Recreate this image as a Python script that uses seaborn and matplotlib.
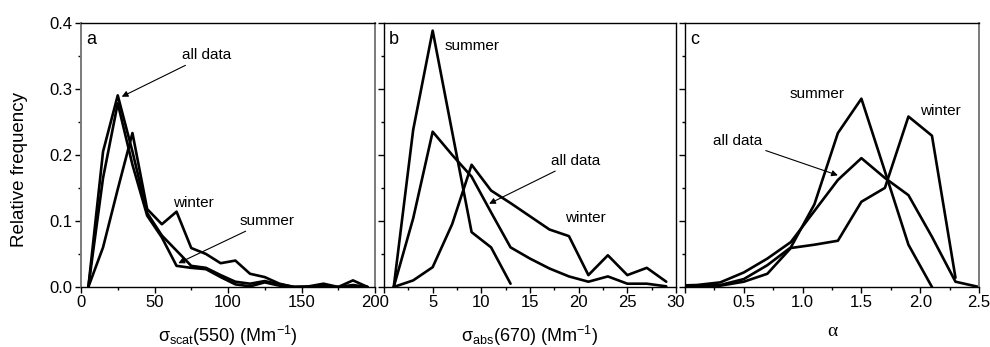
import numpy as np
import pandas as pd
import matplotlib
matplotlib.use("Agg")
import matplotlib.pyplot as plt
from matplotlib.ticker import MultipleLocator, FixedLocator
import seaborn as sns

# ---- data ----
a_x = [5, 15, 25, 35, 45, 55, 65, 75, 85, 95, 105, 115, 125, 135, 145, 155, 165, 175, 185, 195]
a_all = [0, 0.205, 0.29, 0.205, 0.112, 0.078, 0.055, 0.032, 0.029, 0.018, 0.008, 0.005, 0.009, 0.004, 0, 0, 0.002, 0, 0.003, 0]
a_summer = [0, 0.165, 0.278, 0.185, 0.108, 0.075, 0.032, 0.029, 0.027, 0.015, 0.004, 0.001, 0.007, 0.002, 0, 0, 0, 0, 0, 0]
a_winter = [0, 0.06, 0.148, 0.233, 0.118, 0.095, 0.114, 0.059, 0.05, 0.036, 0.04, 0.02, 0.015, 0.005, 0, 0.001, 0.005, 0, 0.01, 0]

b_x = [1, 3, 5, 7, 9, 11, 13, 15, 17, 19, 21, 23, 25, 27, 29]
b_all = [0, 0.104, 0.235, 0.2, 0.167, 0.113, 0.06, 0.043, 0.028, 0.016, 0.008, 0.016, 0.005, 0.005, 0.001]
b_summer = [0, 0.238, 0.388, 0.235, 0.083, 0.06, 0.005]
b_winter = [0, 0.01, 0.03, 0.095, 0.185, 0.146, 0.127, 0.107, 0.087, 0.077, 0.018, 0.048, 0.018, 0.029, 0.008]

c_x = [-0.1, 0.1, 0.3, 0.5, 0.7, 0.9, 1.1, 1.3, 1.5, 1.7, 1.9, 2.1, 2.3, 2.5]
c_all = [0.002, 0.003, 0.007, 0.022, 0.043, 0.068, 0.115, 0.162, 0.195, 0.165, 0.139, 0.076, 0.008, 0.0]
c_summer = [0.001, 0.002, 0.003, 0.012, 0.033, 0.06, 0.125, 0.233, 0.285, 0.175, 0.064, 0.0]
c_winter = [0.0, 0.001, 0.002, 0.008, 0.02, 0.059, 0.064, 0.07, 0.129, 0.15, 0.258, 0.229, 0.014]

y_ticks = [0.0, 0.1, 0.2, 0.3, 0.4]
y_ticklabels = ["0.0", "0.1", "0.2", "0.3", "0.4"]
a_ticks = [0, 50, 100, 150, 200]
a_ticklabels = ["0", "50", "100", "150", "200"]
b_ticks = [0, 5, 10, 15, 20, 25, 30]
b_ticklabels = ["", "5", "10", "15", "20", "25", "30"]
c_ticks = [0.0, 0.5, 1.0, 1.5, 2.0, 2.5]
c_ticklabels = ["", "0.5", "1.0", "1.5", "2.0", "2.5"]

# ---- style ----
sns.set_style("ticks")
plt.rcParams["font.family"] = ["Liberation Sans", "DejaVu Sans"]
plt.rcParams["mathtext.fontset"] = "custom"
plt.rcParams["mathtext.rm"] = "Liberation Sans"
plt.rcParams["mathtext.it"] = "Liberation Sans:italic"
plt.rcParams["mathtext.bf"] = "Liberation Sans:bold"
plt.rcParams["text.color"] = "black"
plt.rcParams["axes.labelcolor"] = "black"
plt.rcParams["xtick.color"] = "black"
plt.rcParams["ytick.color"] = "black"

fig = plt.figure(figsize=(9.9, 3.47), dpi=100)
W, H = 990, 347
bottom = (H - 287) / H
height = (287 - 22.7) / H
axa = fig.add_axes([81 / W, bottom, 294 / W, height])
axb = fig.add_axes([384 / W, bottom, 292 / W, height])
axc = fig.add_axes([685 / W, bottom, 294 / W, height])

LW = 1.9

def draw(ax, x, ys):
    for y in ys:
        n = len(y)
        df = pd.DataFrame({"x": x[:n], "y": y})
        sns.lineplot(data=df, x="x", y="y", ax=ax, color="black", lw=LW,
                     sort=False, legend=False)

draw(axa, a_x, [a_all, a_summer, a_winter])
draw(axb, b_x, [b_all, b_summer, b_winter])
draw(axc, c_x, [c_all, c_summer, c_winter])

def style(ax, xlim, ticks, labels, minor, show_ylabels):
    ax.set_xlim(*xlim)
    ax.set_ylim(0, 0.4)
    ax.xaxis.set_major_locator(FixedLocator(ticks))
    ax.set_xticklabels(labels)
    ax.xaxis.set_minor_locator(MultipleLocator(minor))
    ax.set_yticks(y_ticks)
    ax.yaxis.set_minor_locator(MultipleLocator(0.05))
    if show_ylabels:
        ax.set_yticklabels(y_ticklabels)
    else:
        ax.set_yticklabels([])
    ax.tick_params(which="major", direction="out", length=4, width=1,
                   labelsize=12, pad=2, colors="black")
    ax.tick_params(which="minor", direction="out", length=2.5, width=1)
    ax.tick_params(axis="y", which="both", right=False)
    ax.tick_params(axis="x", which="both", top=False)
    for s in ax.spines.values():
        s.set_visible(True)
        s.set_color("black")
        s.set_linewidth(1.0)
    ax.set_ylabel("")
    ax.set_xlabel("")

style(axa, (0, 200), a_ticks, a_ticklabels, 25, True)
style(axb, (0, 30), b_ticks, b_ticklabels, 2.5, False)
style(axc, (0, 2.5), c_ticks, c_ticklabels, 0.25, False)
axa.spines["left"].set_color("#7a7a7a")
axa.spines["left"].set_linewidth(1.4)
axa.spines["right"].set_color("#7a7a7a")
axa.spines["right"].set_linewidth(1.4)
axc.spines["right"].set_color("#7a7a7a")
axc.spines["right"].set_linewidth(1.4)

axa.set_ylabel("Relative frequency", fontsize=13.5)
axa.yaxis.set_label_coords(-0.18, 0.443)
axa.set_xlabel(r"σ$_{\rm scat}$(550) (Mm$^{-1}$)", fontsize=13, labelpad=10)
axb.set_xlabel(r"σ$_{\rm abs}$(670) (Mm$^{-1}$)", fontsize=13, labelpad=10)
axc.set_xlabel("α", fontsize=14, labelpad=9, family=["Liberation Serif", "DejaVu Serif"])

# panel letters
for ax, letter in [(axa, "a"), (axb, "b"), (axc, "c")]:
    ax.text(0.018, 0.97, letter, transform=ax.transAxes, fontsize=13,
            ha="left", va="top")

arrow = dict(arrowstyle="-|>", color="black", lw=0.8, mutation_scale=9,
             shrinkA=0, shrinkB=0)
FS = 11

# panel a annotations
axa.annotate("all data", xy=(27.7, 0.288), xytext=(68.5, 0.351), fontsize=FS,
             ha="left", va="center", arrowprops=arrow)
axa.text(62.8, 0.127, "winter", fontsize=FS, ha="left", va="center")
axa.annotate("summer", xy=(66.2, 0.036), xytext=(108, 0.1), fontsize=FS,
             ha="left", va="center", arrowprops=arrow)

# panel b annotations
axb.text(6.27, 0.365, "summer", fontsize=FS, ha="left", va="center")
axb.annotate("all data", xy=(10.8, 0.126), xytext=(17.2, 0.191), fontsize=FS,
             ha="left", va="center", arrowprops=arrow)
axb.text(18.6, 0.105, "winter", fontsize=FS, ha="left", va="center")

# panel c annotations
axc.text(0.893, 0.292, "summer", fontsize=FS, ha="left", va="center")
axc.text(2.0, 0.266, "winter", fontsize=FS, ha="left", va="center")
axc.annotate("all data", xy=(1.30, 0.169), xytext=(0.24, 0.221), fontsize=FS,
             ha="left", va="center", arrowprops=arrow)

fig.savefig("out.png", dpi=100)
